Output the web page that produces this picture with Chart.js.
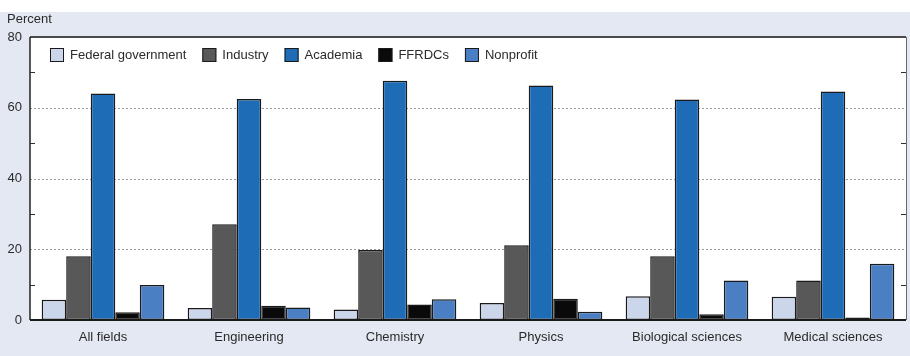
<!DOCTYPE html>
<html>
<head>
<meta charset="utf-8">
<script src="https://cdn.jsdelivr.net/npm/chart.js@4/dist/chart.umd.min.js"></script>
<style>
  html, body { margin: 0; padding: 0; background: #ffffff; }
  #wrap { width: 910px; height: 356px; position: relative; }
</style>
</head>
<body>
<div id="wrap"><canvas id="c" width="910" height="356"></canvas></div>
<script>
// Share of researchers by employment sector, within each field (percent)
const categories = ['All fields', 'Engineering', 'Chemistry', 'Physics', 'Biological sciences', 'Medical sciences'];
const federalGovernment = [5.7, 3.4, 3.0, 4.8, 6.7, 6.6];
const industry          = [18.0, 27.1, 19.8, 21.1, 18.0, 11.2];
const academia          = [64.0, 62.5, 67.6, 66.3, 62.3, 64.6];
const ffrdcs            = [2.2, 4.0, 4.4, 6.0, 1.6, 0.7];
const nonprofit         = [9.9, 3.5, 5.9, 2.3, 11.2, 15.9];
const yTicks = [0, 20, 40, 60, 80];
const yMinorTicks = [10, 30, 50, 70];
const yGridLines = [20, 40, 60];

const seriesNames = ['Federal government', 'Industry', 'Academia', 'FFRDCs', 'Nonprofit'];
const seriesValues = [federalGovernment, industry, academia, ffrdcs, nonprofit];
const seriesColors = ['#cbd6eb', '#585858', '#1e6cb6', '#0a0a0a', '#4b7fc3'];

const FONT = '"Liberation Sans", Arial, Helvetica, sans-serif';
const TEXT = '#2b2b2b';
const PAGE_BG = '#e4e8f2';

// Page background, white plot panel, dotted grid, frame and inward minor ticks
const framePlugin = {
  id: 'frame',
  beforeDraw(chart) {
    const { ctx, chartArea: a, scales: { y } } = chart;
    ctx.save();
    ctx.fillStyle = '#ffffff';
    ctx.fillRect(0, 0, chart.width, chart.height);
    ctx.fillStyle = PAGE_BG;
    ctx.fillRect(0, 12, chart.width, chart.height - 12);
    ctx.fillStyle = '#ffffff';
    ctx.fillRect(a.left, a.top, a.right - a.left, a.bottom - a.top);

    ctx.strokeStyle = '#9a9a9a';
    ctx.lineWidth = 1;
    ctx.setLineDash([2, 2]);
    yGridLines.forEach(v => {
      const py = Math.round(y.getPixelForValue(v)) + 0.5;
      ctx.beginPath();
      ctx.moveTo(a.left, py);
      ctx.lineTo(a.right, py);
      ctx.stroke();
    });
    ctx.setLineDash([]);

    // "Percent" axis title
    ctx.fillStyle = TEXT;
    ctx.font = '13px ' + FONT;
    ctx.textBaseline = 'middle';
    ctx.textAlign = 'left';
    ctx.fillText('Percent', 7, 19);
    ctx.restore();
  },
  afterDatasetsDraw(chart) {
    const { ctx, chartArea: a, scales: { y } } = chart;
    ctx.save();
    ctx.strokeStyle = '#333333';
    ctx.lineWidth = 1.2;
    yMinorTicks.forEach(v => {
      const py = Math.round(y.getPixelForValue(v)) + 0.5;
      ctx.beginPath();
      ctx.moveTo(a.left, py); ctx.lineTo(a.left + 5, py);
      ctx.moveTo(a.right, py); ctx.lineTo(a.right - 5, py);
      ctx.stroke();
    });
    // top border
    ctx.strokeStyle = '#4a4a4a';
    ctx.lineWidth = 2;
    ctx.beginPath();
    ctx.moveTo(a.left, a.top); ctx.lineTo(a.right, a.top);
    ctx.stroke();
    // left and right axes
    ctx.strokeStyle = '#222222';
    ctx.lineWidth = 1.5;
    ctx.beginPath();
    ctx.moveTo(a.left, a.top); ctx.lineTo(a.left, a.bottom);
    ctx.stroke();
    ctx.strokeStyle = '#6a6a6a';
    ctx.lineWidth = 1;
    ctx.beginPath();
    ctx.moveTo(a.right + 0.5, a.top); ctx.lineTo(a.right + 0.5, a.bottom);
    ctx.stroke();
    // baseline
    ctx.strokeStyle = '#1a1a1a';
    ctx.lineWidth = 1.8;
    ctx.beginPath();
    ctx.moveTo(a.left, a.bottom); ctx.lineTo(a.right, a.bottom);
    ctx.stroke();
    ctx.restore();
  },
  afterDraw(chart) {
    // Legend row inside the top of the plot panel
    const { ctx, chartArea: a } = chart;
    ctx.save();
    ctx.font = '13px ' + FONT;
    ctx.textBaseline = 'middle';
    ctx.textAlign = 'left';
    let x = a.left + 20;
    const top = a.top + 11;
    chart.data.datasets.forEach(ds => {
      ctx.fillStyle = ds.backgroundColor;
      ctx.fillRect(x, top, 14, 14);
      ctx.strokeStyle = '#1a1a1a';
      ctx.lineWidth = 1;
      ctx.strokeRect(x + 0.5, top + 0.5, 13, 13);
      ctx.fillStyle = TEXT;
      ctx.fillText(ds.label, x + 20, top + 7.5);
      x += 20 + ctx.measureText(ds.label).width + 16;
    });
    ctx.restore();
  }
};

new Chart(document.getElementById('c'), {
  type: 'bar',
  data: {
    labels: categories,
    datasets: seriesNames.map((name, i) => ({
      label: name,
      data: seriesValues[i],
      backgroundColor: seriesColors[i],
      borderColor: '#1a1a1a',
      borderWidth: 1.5,
      borderSkipped: false,
      categoryPercentage: 0.84,
      barPercentage: 1.0
    }))
  },
  options: {
    responsive: false,
    animation: false,
    devicePixelRatio: 1,
    layout: { padding: { top: 37, right: 4, left: 0, bottom: 0 } },
    plugins: {
      legend: { display: false },
      tooltip: { enabled: false }
    },
    scales: {
      x: {
        grid: { display: false, drawTicks: false },
        border: { display: false },
        ticks: { color: TEXT, font: { family: FONT, size: 13 }, padding: 10, maxRotation: 0 },
        afterFit: s => { s.height = 36; }
      },
      y: {
        min: 0,
        max: 80,
        grid: { display: false, drawTicks: false },
        border: { display: false },
        afterBuildTicks: s => { s.ticks = yTicks.map(v => ({ value: v })); },
        ticks: { color: TEXT, font: { family: FONT, size: 13 }, padding: 8 },
        afterFit: s => { s.width = 30; }
      }
    }
  },
  plugins: [framePlugin]
});
</script>
</body>
</html>
